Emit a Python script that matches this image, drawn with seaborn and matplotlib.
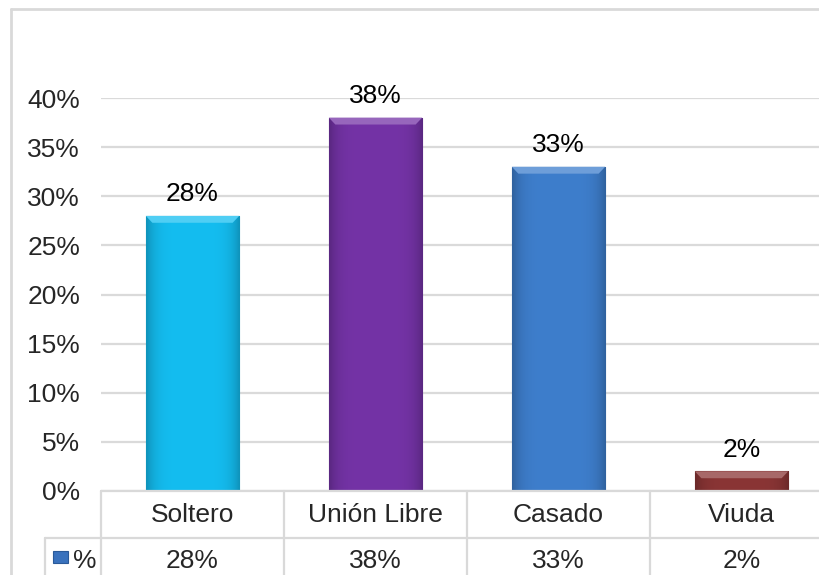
import numpy as np
import pandas as pd
import matplotlib
matplotlib.use("Agg")
import matplotlib.pyplot as plt
import seaborn as sns
from matplotlib.lines import Line2D
from matplotlib.patches import Rectangle, Polygon
import matplotlib.transforms as mtransforms

categories = ["Soltero", "Unión Libre", "Casado", "Viuda"]
values = [28, 38, 33, 2]
series_name = "%"
yticks = [0, 5, 10, 15, 20, 25, 30, 35, 40]
colors = ["#14BDF0", "#7433A6", "#3E7ECC", "#8A3535"]

sns.set_style("white")
plt.rcParams['font.family'] = ['Liberation Sans', 'DejaVu Sans']

W, H = 819, 575
fig = plt.figure(figsize=(W / 100, H / 100), dpi=100)
fig.patch.set_facecolor("white")

def fx(px):
    return px / W

def fy(py):
    return 1 - py / H

left, right, top, bottom = 101, 833, 98, 491
ax = fig.add_axes([fx(left), fy(bottom), (right - left) / W, (bottom - top) / H])

df = pd.DataFrame({"cat": categories, "val": [v / 100 for v in values]})
sns.barplot(data=df, x="cat", y="val", hue="cat", palette=colors, width=0.51,
            legend=False, ax=ax, zorder=3, saturation=1)

ax.set_xlim(-0.5, 3.5)
ax.set_ylim(0, 0.40)
ax.set_yticks([t / 100 for t in yticks])
ax.set_yticklabels([f"{t}%" for t in yticks], fontsize=19)
ax.tick_params(axis="y", length=0, pad=15)
ax.set_xticks([])
ax.set_xlabel("")
ax.set_ylabel("")
ax.yaxis.grid(True, color="#DADADA", linewidth=1.6, zorder=0)
ax.set_axisbelow(True)
for s in ax.spines.values():
    s.set_visible(False)

# bevel look on bars
def shade(c, f):
    c = np.array(matplotlib.colors.to_rgb(c))
    if f > 0:
        return tuple(c + (1 - c) * f)
    return tuple(c * (1 + f))

for p, c in zip(list(ax.patches), colors):
    x0, y0 = p.get_x(), p.get_y()
    w, h = p.get_width(), p.get_height()
    p.set_edgecolor(shade(c, -0.3))
    p.set_linewidth(0.8)
    grad = np.linspace(0, 1, 64)
    prof = 1 - 0.22 * (np.abs(grad - 0.5) * 2) ** 5
    base = np.array(matplotlib.colors.to_rgb(c))
    img = (base[None, None, :] * prof[None, :, None])
    im = ax.imshow(img, extent=[x0, x0 + w, y0, y0 + h], aspect="auto",
                   zorder=3.5, interpolation="bicubic")
    im.set_clip_path(p)
    bh = min(0.007, h * 0.35)
    inset = w * 0.07
    ax.add_patch(Polygon([(x0, y0 + h), (x0 + w, y0 + h),
                          (x0 + w - inset, y0 + h - bh), (x0 + inset, y0 + h - bh)],
                         closed=True, facecolor=shade(c, 0.25), edgecolor="none",
                         zorder=3.6))

for i, v in enumerate(values):
    ax.annotate(f"{v}%", (i, v / 100), xytext=(0, 7), textcoords="offset points",
                ha="center", va="bottom", fontsize=19, color="black", zorder=5)

# table below the axis
grid_c = "#D9D9D9"
row1_top, row1_bot = 491, 538
col_edges = [left + i * (right - left) / 4 for i in range(5)]

def hline(x0, x1, y):
    fig.add_artist(Line2D([fx(x0), fx(x1)], [fy(y), fy(y)], color=grid_c, lw=1.6))

def vline(x, y0, y1):
    fig.add_artist(Line2D([fx(x), fx(x)], [fy(y0), fy(y1)], color=grid_c, lw=1.6))

hline(left, W + 20, row1_top)
hline(45, W + 20, row1_bot)
vline(left, row1_top, H + 20)
vline(45, row1_bot, H + 20)
for xe in col_edges[1:]:
    vline(xe, row1_top, H + 20)

trans = mtransforms.blended_transform_factory(ax.transData, fig.transFigure)
for i, (c, v) in enumerate(zip(categories, values)):
    ax.text(i, fy((row1_top + row1_bot) / 2 + 1), c, transform=trans, ha="center",
            va="center", fontsize=19, clip_on=False)
    ax.text(i, fy(561), f"{v}%", transform=trans, ha="center",
            va="center", fontsize=19, clip_on=False)

# legend key
fig.add_artist(Rectangle((fx(53), fy(563)), 15 / W, 12 / H, transform=fig.transFigure,
                         facecolor="#3A72BD", edgecolor="#2A5A99", lw=0.8))
fig.text(fx(73), fy(561), series_name, ha="left", va="center", fontsize=19)

# outer chart border
fig.add_artist(Line2D([fx(11), fx(W + 5)], [fy(9), fy(9)], color=grid_c, lw=2))
fig.add_artist(Line2D([fx(11), fx(11)], [fy(9), fy(H + 5)], color=grid_c, lw=2))

fig.savefig("out.png", dpi=100, facecolor="white")
